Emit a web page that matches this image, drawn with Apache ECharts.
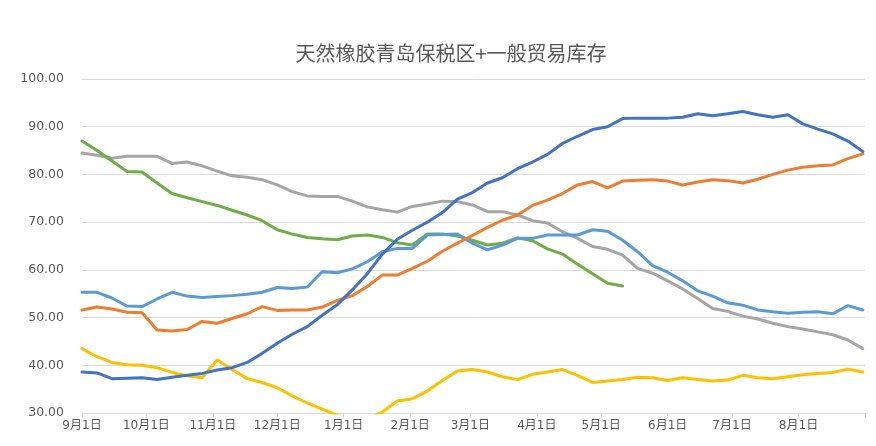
<!DOCTYPE html>
<html>
<head>
<meta charset="utf-8">
<script src="https://cdn.jsdelivr.net/npm/echarts@6/dist/echarts.min.js"></script>
<style>
html,body{margin:0;padding:0;background:#fff;}
#chart{width:876px;height:446px;}
</style>
</head>
<body>
<div id="chart"></div>
<script>
// Weekly observations, starting 9月1日, one value per 7 days
const seriesDarkBlue = [38.6,38.4,37.2,37.3,37.4,37.0,37.5,37.9,38.3,39.0,39.5,40.6,42.5,44.6,46.5,48.1,50.5,52.7,55.8,59.2,63.3,66.4,68.3,70.0,72.0,74.8,76.2,78.2,79.3,81.2,82.6,84.2,86.5,88.0,89.4,90.0,91.7,91.8,91.8,91.8,92.0,92.7,92.3,92.7,93.2,92.5,92.0,92.5,90.6,89.5,88.5,87.0,84.8];
const seriesOrange = [51.6,52.2,51.8,51.1,51.0,47.4,47.2,47.5,49.2,48.8,49.8,50.8,52.3,51.5,51.6,51.6,52.2,53.6,54.6,56.5,58.9,58.9,60.3,61.8,63.9,65.6,67.2,68.9,70.4,71.5,73.5,74.6,76.0,77.8,78.5,77.2,78.6,78.8,78.9,78.6,77.8,78.4,78.9,78.7,78.2,79.0,80.0,80.9,81.5,81.8,82.0,83.3,84.3];
const seriesGray = [84.5,84.0,83.4,83.8,83.8,83.8,82.3,82.6,81.8,80.7,79.7,79.4,78.9,77.8,76.4,75.5,75.4,75.4,74.4,73.2,72.6,72.1,73.3,73.8,74.4,74.3,73.6,72.2,72.2,71.5,70.3,69.8,68.0,66.6,64.9,64.3,63.1,60.3,59.3,57.7,56.0,54.0,51.9,51.3,50.3,49.7,48.8,48.1,47.6,47.0,46.4,45.3,43.5];
const seriesYellow = [43.5,41.8,40.6,40.1,40.0,39.5,38.5,37.8,37.4,41.1,39.1,37.2,36.4,35.3,33.6,32.1,30.8,29.5,28.8,28.6,30.2,32.5,33.0,34.6,36.8,38.8,39.1,38.6,37.6,37.0,38.1,38.6,39.1,37.9,36.4,36.7,37.0,37.5,37.4,36.8,37.4,37.0,36.7,36.9,37.9,37.4,37.2,37.6,38.0,38.3,38.5,39.2,38.6];
const seriesLightBlue = [55.3,55.3,54.1,52.4,52.3,53.9,55.3,54.5,54.2,54.4,54.6,54.9,55.3,56.3,56.1,56.4,59.6,59.4,60.2,61.7,63.8,64.5,64.5,67.3,67.4,67.5,65.6,64.2,65.2,66.6,66.6,67.3,67.3,67.3,68.4,68.1,66.2,63.8,60.9,59.5,57.7,55.6,54.5,53.1,52.6,51.6,51.2,50.9,51.1,51.2,50.8,52.5,51.6];
const seriesGreen = [87.0,85.0,82.8,80.6,80.5,78.2,76.0,75.1,74.3,73.5,72.5,71.5,70.3,68.4,67.5,66.8,66.5,66.3,67.1,67.3,66.8,65.7,65.2,67.5,67.5,67.1,66.2,65.2,65.6,66.7,66.1,64.4,63.3,61.2,59.2,57.2,56.6];

// Day categories: 9月1日 .. next 9月1日 (non-leap year)
const categories = [];
{
  const start = Date.UTC(2021, 8, 1);
  for (let i = 0; i <= 365; i++) {
    const d = new Date(start + i * 86400000);
    categories.push((d.getUTCMonth() + 1) + '月' + d.getUTCDate() + '日');
  }
}
const isMonthStart = (idx) => categories[idx].endsWith('月1日');
const toPairs = (arr) => arr.map((v, k) => [7 * k, v]);

const chart = echarts.init(document.getElementById('chart'));
const mk = (data, color, z) => ({
  type: 'line',
  data: toPairs(data),
  showSymbol: false,
  symbol: 'none',
  lineStyle: { color: color, width: 3, cap: 'round', join: 'round' },
  itemStyle: { color: color },
  z: z,
  clip: true,
  animation: false
});
chart.setOption({
  animation: false,
  title: {
    text: '天然橡胶青岛保税区+一般贸易库存',
    left: 446,
    textAlign: 'center',
    top: 38,
    textStyle: { fontFamily: 'Noto Sans CJK SC', fontSize: 20, fontWeight: 'normal', color: '#595959' }
  },
  grid: { left: 82, right: 11, top: 79, bottom: 33, containLabel: false },
  xAxis: {
    type: 'category',
    data: categories,
    boundaryGap: false,
    axisLine: { show: true, lineStyle: { color: '#D9D9D9', width: 1 } },
    axisTick: { show: true, interval: (i) => isMonthStart(i), length: 5, lineStyle: { color: '#D9D9D9' } },
    axisLabel: {
      interval: (i) => isMonthStart(i) && i < 365,
      color: '#595959',
      fontFamily: '"DejaVu Sans", "Noto Sans CJK SC"',
      fontSize: 12,
      margin: 7
    },
    splitLine: { show: false }
  },
  yAxis: {
    type: 'value',
    min: 30,
    max: 100,
    interval: 10,
    axisLine: { show: false },
    axisTick: { show: false },
    axisLabel: {
      formatter: (v) => v.toFixed(2),
      color: '#595959',
      fontFamily: '"DejaVu Sans"',
      fontSize: 12.5,
      margin: 18
    },
    splitLine: { lineStyle: { color: '#D9D9D9', width: 1 } }
  },
  series: [
    mk(seriesDarkBlue, '#4472C4', 6),
    mk(seriesOrange, '#ED7D31', 5),
    mk(seriesGray, '#A5A5A5', 2),
    mk(seriesYellow, '#FFC000', 3),
    mk(seriesLightBlue, '#5B9BD5', 4),
    mk(seriesGreen, '#70AD47', 3)
  ]
});
</script>
</body>
</html>
